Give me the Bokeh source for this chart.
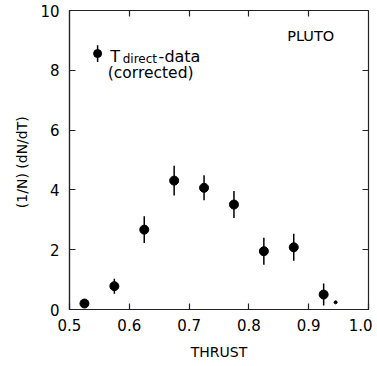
from bokeh.plotting import figure
from bokeh.models import LinearAxis, Range1d, FixedTicker, Label, ColumnDataSource
from bokeh.embed import file_html
from bokeh.resources import INLINE

# data
thrust = [0.525, 0.575, 0.625, 0.675, 0.725, 0.775, 0.825, 0.875, 0.925]
dndt = [0.20, 0.78, 2.67, 4.31, 4.07, 3.51, 1.95, 2.08, 0.50]
err = [0.0, 0.25, 0.45, 0.50, 0.42, 0.45, 0.45, 0.45, 0.37]
extra_x = [0.945]
extra_y = [0.24]
x_ticks = [0.5, 0.6, 0.7, 0.8, 0.9, 1.0]
y_ticks = [0, 2, 4, 6, 8, 10]

FONT = "DejaVu Sans"

p = figure(frame_width=299, frame_height=299,
           x_range=Range1d(0.5, 1.0), y_range=Range1d(0, 10),
           output_backend="svg", toolbar_location=None,
           min_border_left=69, min_border_right=4, min_border_top=10, min_border_bottom=52,
           x_axis_label="THRUST", y_axis_label="(1/N)  (dN/dT)")
p.grid.visible = False
p.outline_line_color = "#222222"
p.outline_line_width = 1.2
p.background_fill_color = "white"
p.border_fill_color = "white"

for ax, ticks in ((p.xaxis[0], x_ticks), (p.yaxis[0], y_ticks)):
    ax.ticker = FixedTicker(ticks=ticks)
    ax.major_tick_in = 6
    ax.major_tick_out = 0
    ax.minor_tick_in = 0
    ax.minor_tick_out = 0
    ax.axis_line_color = "#222222"
    ax.axis_line_width = 1.2
    ax.major_tick_line_color = "#222222"
    ax.major_tick_line_width = 1.2
    ax.major_label_text_font = FONT
    ax.major_label_text_font_size = "15px"
    ax.major_label_text_color = "black"
    ax.axis_label_text_font = FONT
    ax.axis_label_text_font_size = "14px"
    ax.axis_label_text_font_style = "normal"
    ax.axis_label_text_color = "black"

p.xaxis[0].major_label_standoff = 9
p.xaxis[0].axis_label_standoff = 10
p.yaxis[0].major_label_standoff = 10
p.yaxis[0].axis_label_standoff = 7
p.xaxis[0].major_label_overrides = {1.0: "1.0"}

# mirrored ticks (no labels)
mir = dict(major_tick_in=6, major_tick_out=0, minor_tick_in=0, minor_tick_out=0,
           axis_line_color=None, major_tick_line_color="#222222", major_tick_line_width=1.2,
           major_label_standoff=0, axis_label_standoff=0, major_label_text_font_size="1px")
right = LinearAxis(ticker=FixedTicker(ticks=y_ticks[1:-1]),
                   major_label_overrides={t: "" for t in y_ticks}, **mir)
top = LinearAxis(ticker=FixedTicker(ticks=x_ticks[1:-1]),
                 major_label_overrides={t: "" for t in x_ticks}, **mir)
p.add_layout(right, "right")
p.add_layout(top, "above")

lo = [v - e for v, e in zip(dndt, err)]
hi = [v + e for v, e in zip(dndt, err)]
src = ColumnDataSource(dict(x=thrust, y=dndt, lo=lo, hi=hi))
p.segment(x0="x", y0="lo", x1="x", y1="hi", source=src, line_color="black", line_width=1.5)
p.scatter(x="x", y="y", source=src, size=9, color="black")
p.scatter(x=extra_x, y=extra_y, size=3, color="black")

# legend entry
leg_x, leg_y, leg_err = 0.547, 8.56, 0.28
p.segment(x0=[leg_x], y0=[leg_y - leg_err], x1=[leg_x], y1=[leg_y + leg_err], line_color="black", line_width=1.5)
p.scatter(x=[leg_x], y=[leg_y], size=8, color="black")

def lab(x, y, t, size, **kw):
    p.add_layout(Label(x=x, y=y, text=t, text_font=FONT, text_font_size=size,
                       text_color="black", text_baseline="alphabetic", **kw))

lab(0.568, 8.46, "T", "16px")
lab(0.589, 8.38, "direct", "12px")
lab(0.649, 8.46, "-data", "16px")
lab(0.564, 7.90, "(corrected)", "15.5px")
lab(0.864, 9.15, "PLUTO", "14.5px")

open("out.html", "w").write(file_html(p, INLINE))
